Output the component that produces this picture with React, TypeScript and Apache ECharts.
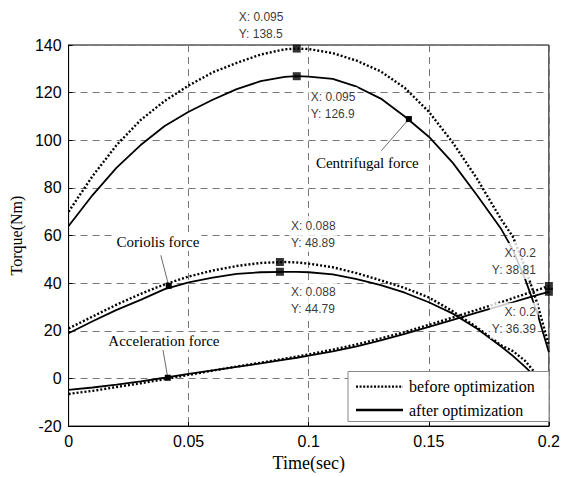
import React, { useEffect, useRef } from "react";
import * as echarts from "echarts";

const time = [0, 0.01, 0.02, 0.03, 0.04, 0.05, 0.06, 0.07, 0.08, 0.09, 0.095, 0.1, 0.11, 0.12, 0.13, 0.14, 0.15, 0.16, 0.17, 0.18, 0.185, 0.19, 0.195, 0.2];

const centrifugalBefore = [70, 85, 98, 108.5, 116.5, 123, 128.5, 132.5, 136, 138.2, 138.5, 138.3, 136.6, 133.4, 128.9, 122, 112, 99, 84, 67, 59.5, 47, 32, 14];
const centrifugalAfter = [64, 77, 88.5, 98, 106, 112, 117, 121.5, 124.8, 126.6, 126.9, 126.7, 125.8, 122.5, 117.5, 110, 101.5, 90.5, 77, 63, 54, 42, 28, 11];
const coriolisBefore = [21, 26, 31, 35.5, 39.5, 42.8, 45.3, 47.2, 48.5, 48.89, 48.7, 48.2, 46.7, 44.2, 41.2, 38, 34, 28.2, 21.5, 14, 11.5, 7.5, 1.5, -4];
const coriolisAfter = [19, 24, 28.8, 33, 37.5, 40.3, 42.3, 43.9, 44.6, 44.79, 44.75, 44.6, 43.7, 41.7, 39.2, 36, 32, 27.2, 21, 13.5, 9.5, 5, 0, -5];
const accelerationBefore = [-6.5, -5.2, -3.6, -2, -0.3, 1.5, 3.3, 5, 6.6, 8.3, 9.2, 10.1, 12.1, 14.3, 16.8, 19.5, 22.5, 25.6, 28.8, 32, 33.7, 35.4, 37.1, 38.81];
const accelerationAfter = [-4.8, -3.8, -2.6, -1.2, 0.3, 1.9, 3.4, 4.9, 6.3, 7.9, 8.7, 9.6, 11.4, 13.5, 16, 18.7, 21.7, 24.6, 27.6, 30.6, 32, 33.5, 35, 36.39];

// data tips: [time, value]
const tipTimes = [0.095, 0.095, 0.088, 0.088, 0.2, 0.2];
const tipValues = [138.5, 126.9, 48.89, 44.79, 38.81, 36.39];

// annotations: label, text position (t, v), leader start (t, v), tip (t, v)
const annotationLabels = ["Centrifugal force", "Coriolis force", "Acceleration force"];
const annotationTextT = [0.1244, 0.0372, 0.0397];
const annotationTextV = [90.3, 57.1, 15.6];
const annotationStartT = [0.1302, 0.0384, 0.0393];
const annotationStartV = [95.6, 51.7, 11.9];
const annotationTipT = [0.1417, 0.0417, 0.0413];
const annotationTipV = [108.9, 38.9, 0.3];

const legendNames = ["before optimization", "after optimization"];
const xTicks = { min: 0, max: 0.2, interval: 0.05 };
const yTicks = { min: -20, max: 140, interval: 20 };

const pair = (vals: number[]) => time.map((t, i) => [t, vals[i]]);

export default function App() {
  const ref = useRef<HTMLDivElement>(null);
  useEffect(() => {
    if (!ref.current) return;
    const chart = echarts.init(ref.current, null, { renderer: "svg" });
    const dottedType = [2, 2];
    const dotted = { color: "#000", width: 2.4, type: dottedType as any };
    const solid = { color: "#000", width: 1.8, type: "solid" as any };
    const mk = (name: string, vals: number[], style: any) => ({
      type: "line",
      name,
      data: pair(vals),
      symbol: "none",
      smooth: false,
      lineStyle: style,
      itemStyle: { color: "#000" },
      z: 2,
    });
    const tipPos: any[] = [
      { position: [-56, -37], align: "left" },
      { position: [16, 15], align: "left" },
      { position: [13, -42], align: "left" },
      { position: [13, 15], align: "left" },
      { position: [-7, -39], align: "right" },
      { position: [-7, 15], align: "right" },
    ];
    const option: any = {
      animation: false,
      grid: {
        left: 65,
        top: 45,
        right: 14,
        bottom: 46,
        show: true,
        borderColor: "#000",
        borderWidth: 1,
        backgroundColor: "#fff",
      },
      xAxis: {
        type: "value",
        min: xTicks.min,
        max: xTicks.max,
        interval: xTicks.interval,
        name: "Time(sec)",
        nameLocation: "middle",
        nameGap: 24,
        nameTextStyle: { fontFamily: "Liberation Serif", fontSize: 18, color: "#000" },
        axisLine: { show: true, onZero: false, lineStyle: { color: "#000", width: 1 } },
        axisTick: { show: true, inside: true, length: 4, lineStyle: { color: "#000" } },
        axisLabel: {
          fontFamily: "Liberation Sans",
          fontSize: 16,
          color: "#000",
          margin: 7,
          formatter: (v: number) => String(parseFloat(v.toFixed(3))),
        },
        splitLine: { show: true, lineStyle: { color: "#777", width: 1, type: [7, 5] } },
      },
      yAxis: {
        type: "value",
        min: yTicks.min,
        max: yTicks.max,
        interval: yTicks.interval,
        name: "Torque(Nm)",
        nameLocation: "middle",
        nameGap: 40,
        nameTextStyle: { fontFamily: "Liberation Serif", fontSize: 16, color: "#000" },
        axisLine: { show: true, onZero: false, lineStyle: { color: "#000", width: 1 } },
        axisTick: { show: true, inside: true, length: 4, lineStyle: { color: "#000" } },
        axisLabel: { fontFamily: "Liberation Sans", fontSize: 16, color: "#000", margin: 7 },
        splitLine: { show: true, lineStyle: { color: "#777", width: 1, type: [7, 5] } },
      },
      series: [
        mk(legendNames[0], centrifugalBefore, dotted),
        mk(legendNames[1], centrifugalAfter, solid),
        mk(legendNames[0], coriolisBefore, dotted),
        mk(legendNames[1], coriolisAfter, solid),
        mk(legendNames[0], accelerationBefore, dotted),
        mk(legendNames[1], accelerationAfter, solid),
        {
          type: "scatter",
          name: "tips",
          symbol: "rect",
          symbolSize: 8,
          itemStyle: { color: "#000" },
          z: 5,
          data: tipTimes.map((t, i) => ({
            value: [t, tipValues[i]],
            label: {
              show: true,
              position: tipPos[i].position,
              align: tipPos[i].align,
              verticalAlign: "top",
            },
          })),
          label: {
            show: true,
            fontFamily: "Liberation Sans",
            fontSize: 12,
            lineHeight: 17,
            color: "#000",
            backgroundColor: "#fff",
            padding: [1, 2, 1, 2],
            formatter: (p: any) => `X: ${p.value[0]}\nY: ${p.value[1]}`,
          },
        },
      ],
    };
    chart.setOption(option);

    const graphics: any[] = [];
    annotationLabels.forEach((lab, i) => {
      const tp = chart.convertToPixel({ gridIndex: 0 }, [annotationTextT[i], annotationTextV[i]]) as number[];
      const sp = chart.convertToPixel({ gridIndex: 0 }, [annotationStartT[i], annotationStartV[i]]) as number[];
      const ep = chart.convertToPixel({ gridIndex: 0 }, [annotationTipT[i], annotationTipV[i]]) as number[];
      graphics.push({
        type: "line",
        shape: { x1: sp[0], y1: sp[1], x2: ep[0], y2: ep[1] },
        style: { stroke: "#444", lineWidth: 0.8 },
        z: 20,
      });
      graphics.push({
        type: "rect",
        shape: { x: ep[0] - 3, y: ep[1] - 3, width: 6, height: 6 },
        style: { fill: "#000" },
        z: 20,
      });
      graphics.push({
        type: "text",
        x: tp[0],
        y: tp[1],
        style: {
          text: lab,
          fontFamily: "Liberation Serif",
          fontSize: 15,
          fill: "#000",
          align: "center",
          verticalAlign: "middle",
          backgroundColor: "#fff",
          padding: [1, 2],
        },
        z: 20,
      });
    });

    // legend box (drawn as graphic so that the line samples match the series styles)
    const lgX = 348, lgY = 371.5, lgW = 201, lgH = 50;
    const rows = [386.7, 410];
    const rowStyles = [dotted, solid];
    graphics.push({
      type: "rect",
      shape: { x: lgX, y: lgY, width: lgW, height: lgH },
      style: { fill: "#fff", stroke: "#888", lineWidth: 1 },
      z: 30,
    });
    legendNames.forEach((nm, i) => {
      graphics.push({
        type: "line",
        shape: { x1: lgX + 8, y1: rows[i], x2: lgX + 55, y2: rows[i] },
        style: {
          stroke: "#000",
          lineWidth: i === 0 ? 2.2 : 2.6,
          lineDash: i === 0 ? [2, 1.6] : null,
        },
        z: 31,
      });
      graphics.push({
        type: "text",
        x: lgX + 61,
        y: rows[i],
        style: {
          text: nm,
          fontFamily: "Liberation Serif",
          fontSize: 16,
          fill: "#000",
          align: "left",
          verticalAlign: "middle",
        },
        z: 31,
      });
    });
    void rowStyles;
    chart.setOption({ graphic: graphics });
    return () => chart.dispose();
  }, []);
  return (
    <div
      ref={ref}
      style={{ position: "absolute", left: 0, top: 0, width: 563, height: 477, background: "#fff" }}
    />
  );
}
